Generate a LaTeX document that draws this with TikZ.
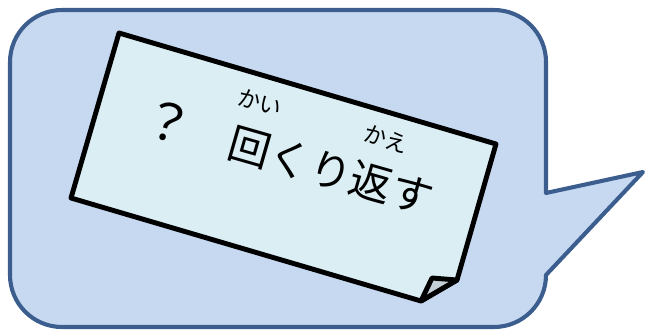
\documentclass[tikz,border=0pt]{standalone}
\usepackage{fontspec}
\newfontfamily\jpfont{Noto Sans CJK JP}
\definecolor{colorBubble}{HTML}{C6D9F1}
\definecolor{colorBubbleLine}{HTML}{3B5E8E}
\definecolor{colorCard}{HTML}{DAEEF3}
\definecolor{colorFold}{HTML}{C3CED6}
\usetikzlibrary{positioning}
\tikzset{jptext/.style={font=\jpfont\fontsize{30}{30}\selectfont, rotate=-16, inner sep=0pt},
  rubytext/.style={font=\jpfont\fontsize{16}{16}\selectfont, rotate=-16, inner sep=0pt}}

\begin{document}
\begin{tikzpicture}[x=0.025cm, y=-0.025cm, line join=round]
\useasboundingbox (0,0) rectangle (646,331);
% speech bubble
\draw[colorBubbleLine, fill=colorBubble, line width=2.9pt] (62,10) -- (494,10) arc[start angle=270, end angle=360, radius=52] -- (546,193) -- (643,172) -- (546,275) arc[start angle=0, end angle=90, radius=52] -- (62,327) arc[start angle=90, end angle=180, radius=52] -- (10,62) arc[start angle=180, end angle=270, radius=52] -- cycle;
% card with folded corner
\coordinate (tl) at (119,33);
\coordinate (tr) at (496,144);
\coordinate (fr) at (457,280);
\coordinate (fb) at (421,301);
\coordinate (bl) at (71,198);
\coordinate (fa) at (432,278);
\draw[line width=3.5pt, fill=colorCard] (tl) -- (tr) -- (fr) -- (fb) -- (bl) -- cycle;
\draw[line width=3.5pt, fill=colorFold] (fb) -- (fa) -- (fr) -- cycle;
\node[jptext, font=\jpfont\fontsize{36}{36}\selectfont] (qmark) at (168,122) {？};
\node[jptext] (repeat) at (331,171) {回くり返す};
\node[rubytext] (kai) at (260,102) {かい};
\node[rubytext] (kae) at (386,139) {かえ};
\end{tikzpicture}
\end{document}
